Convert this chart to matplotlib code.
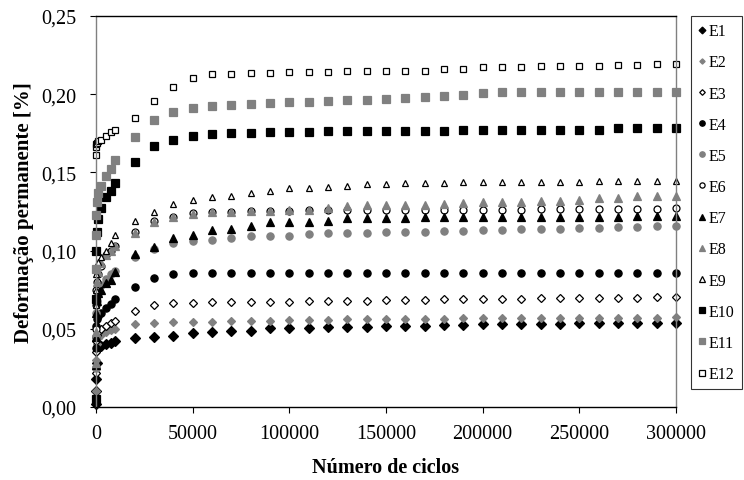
import matplotlib
matplotlib.use("Agg")
import matplotlib.pyplot as plt
from matplotlib.ticker import FuncFormatter, MultipleLocator

plt.rcParams['font.family'] = ['Liberation Serif', 'DejaVu Serif']

# ciclos: leituras iniciais + 20000..300000 de 10000 em 10000
early_x = [1, 10, 100, 500, 1000, 2500, 5000, 7500, 10000]
late_x = [20000, 30000, 40000, 50000, 60000, 70000, 80000, 90000, 100000,
          110000, 120000, 130000, 140000, 150000, 160000, 170000, 180000,
          190000, 200000, 210000, 220000, 230000, 240000, 250000, 260000,
          270000, 280000, 290000, 300000]
ciclos = early_x + late_x

E1 = [0.002, 0.010, 0.018, 0.028, 0.038, 0.039, 0.040, 0.041, 0.042,
      0.0443, 0.0450, 0.0456, 0.0471, 0.0477, 0.0488, 0.0488, 0.0503, 0.0503,
      0.0503, 0.0509, 0.0513, 0.0513, 0.0520, 0.0520, 0.0520, 0.0525, 0.0525,
      0.0530, 0.0530, 0.0530, 0.0530, 0.0533, 0.0535, 0.0535, 0.0535, 0.0538,
      0.0538, 0.0540]
E2 = [0.010, 0.024, 0.030, 0.040, 0.044, 0.046, 0.048, 0.049, 0.050,
      0.0531, 0.0537, 0.0541, 0.0541, 0.0545, 0.0549, 0.0553, 0.0553, 0.0555,
      0.0557, 0.0559, 0.0562, 0.0562, 0.0562, 0.0563, 0.0565, 0.0565, 0.0566,
      0.0567, 0.0568, 0.0568, 0.0569, 0.0570, 0.0570, 0.0571, 0.0571, 0.0572,
      0.0572, 0.0573]
E3 = [0.022, 0.035, 0.042, 0.046, 0.048, 0.050, 0.052, 0.054, 0.055,
      0.0612, 0.0654, 0.0663, 0.0663, 0.0669, 0.0669, 0.0671, 0.0673, 0.0673,
      0.0675, 0.0677, 0.0678, 0.0680, 0.0684, 0.0685, 0.0686, 0.0688, 0.0690,
      0.0690, 0.0692, 0.0693, 0.0695, 0.0696, 0.0697, 0.0698, 0.0700, 0.0700,
      0.0701, 0.0702]
E4 = [0.038, 0.045, 0.052, 0.056, 0.058, 0.060, 0.063, 0.066, 0.069,
      0.0769, 0.0825, 0.0848, 0.0855, 0.0855, 0.0855, 0.0855, 0.0855, 0.0855,
      0.0855, 0.0855, 0.0855, 0.0855, 0.0855, 0.0855, 0.0855, 0.0855, 0.0855,
      0.0855, 0.0855, 0.0855, 0.0855, 0.0855, 0.0855, 0.0855, 0.0855, 0.0855,
      0.0855, 0.0855]
E5 = [0.025, 0.045, 0.060, 0.068, 0.072, 0.078, 0.082, 0.085, 0.087,
      0.0957, 0.1010, 0.1049, 0.1063, 0.1070, 0.1078, 0.1091, 0.1095, 0.1095,
      0.1104, 0.1110, 0.1110, 0.1115, 0.1117, 0.1120, 0.1122, 0.1125, 0.1128,
      0.1130, 0.1133, 0.1135, 0.1138, 0.1140, 0.1143, 0.1145, 0.1148, 0.1150,
      0.1155, 0.1160]
E6 = [0.050, 0.065, 0.075, 0.080, 0.085, 0.090, 0.097, 0.100, 0.103,
      0.1117, 0.1191, 0.1217, 0.1240, 0.1249, 0.1249, 0.1254, 0.1254, 0.1254,
      0.1257, 0.1257, 0.1257, 0.1257, 0.1257, 0.1258, 0.1259, 0.1260, 0.1260,
      0.1260, 0.1262, 0.1262, 0.1263, 0.1263, 0.1265, 0.1265, 0.1266, 0.1267,
      0.1268, 0.1270]
E7 = [0.027, 0.045, 0.060, 0.068, 0.073, 0.075, 0.079, 0.081, 0.086,
      0.0978, 0.1021, 0.1078, 0.1102, 0.1134, 0.1138, 0.1159, 0.1181, 0.1185,
      0.1185, 0.1191, 0.1206, 0.1206, 0.1210, 0.1210, 0.1212, 0.1212, 0.1214,
      0.1214, 0.1215, 0.1215, 0.1216, 0.1216, 0.1217, 0.1218, 0.1218, 0.1219,
      0.1220, 0.1220]
E8 = [0.028, 0.048, 0.070, 0.080, 0.086, 0.092, 0.097, 0.100, 0.103,
      0.1110, 0.1185, 0.1212, 0.1235, 0.1245, 0.1247, 0.1252, 0.1255, 0.1258,
      0.1262, 0.1270, 0.1283, 0.1290, 0.1290, 0.1290, 0.1292, 0.1298, 0.1302,
      0.1309, 0.1313, 0.1313, 0.1317, 0.1320, 0.1326, 0.1334, 0.1338, 0.1347,
      0.1351, 0.1351]
E9 = [0.065, 0.075, 0.085, 0.090, 0.093, 0.096, 0.100, 0.105, 0.110,
      0.1191, 0.1245, 0.1298, 0.1326, 0.1340, 0.1351, 0.1368, 0.1383, 0.1398,
      0.1400, 0.1406, 0.1410, 0.1426, 0.1426, 0.1430, 0.1430, 0.1430, 0.1436,
      0.1436, 0.1436, 0.1436, 0.1440, 0.1440, 0.1440, 0.1447, 0.1447, 0.1447,
      0.1447, 0.1447]
E10 = [0.005, 0.069, 0.100, 0.112, 0.120, 0.127, 0.134, 0.138, 0.143,
       0.1564, 0.1671, 0.1709, 0.1735, 0.1745, 0.1750, 0.1755, 0.1758, 0.1760,
       0.1760, 0.1762, 0.1763, 0.1765, 0.1765, 0.1767, 0.1767, 0.1767, 0.1773,
       0.1773, 0.1773, 0.1773, 0.1773, 0.1773, 0.1773, 0.1773, 0.1781, 0.1781,
       0.1781, 0.1781]
E11 = [0.088, 0.110, 0.123, 0.131, 0.137, 0.141, 0.148, 0.152, 0.158,
       0.1724, 0.1837, 0.1888, 0.1910, 0.1927, 0.1932, 0.1937, 0.1942, 0.1947,
       0.1952, 0.1957, 0.1962, 0.1965, 0.1968, 0.1974, 0.1980, 0.1986, 0.1997,
       0.2005, 0.2012, 0.2012, 0.2012, 0.2012, 0.2012, 0.2012, 0.2012, 0.2012,
       0.2012, 0.2012]
E12 = [0.161, 0.166, 0.168, 0.169, 0.170, 0.171, 0.1735, 0.1756, 0.177,
       0.1848, 0.1954, 0.2044, 0.2104, 0.2129, 0.2132, 0.2135, 0.2138, 0.2140,
       0.2142, 0.2144, 0.2146, 0.2148, 0.2149, 0.2150, 0.2150, 0.2160, 0.2164,
       0.2172, 0.2172, 0.2172, 0.2178, 0.2178, 0.2178, 0.2178, 0.2187, 0.2187,
       0.2193, 0.2193]

series = [E1, E2, E3, E4, E5, E6, E7, E8, E9, E10, E11, E12]
labels = ['E1', 'E2', 'E3', 'E4', 'E5', 'E6', 'E7', 'E8', 'E9', 'E10', 'E11', 'E12']

gray = '#808080'
# (marker, face, edge, size)
styles = [('D', 'black', 'black', 4.6),
          ('D', gray, gray, 3.6),
          ('D', 'white', 'black', 3.8),
          ('o', 'black', 'black', 5.2),
          ('o', gray, gray, 5.2),
          ('o', 'white', 'black', 5.0),
          ('^', 'black', 'black', 5.4),
          ('^', gray, gray, 5.4),
          ('^', 'white', 'black', 5.0),
          ('s', 'black', 'black', 5.2),
          ('s', gray, gray, 5.2),
          ('s', 'white', 'black', 5.0)]

fig = plt.figure(figsize=(7.44, 4.81), dpi=100)
ax = fig.add_axes([96 / 744, 1 - 408 / 481, 580 / 744, 391 / 481])

for vals, lab, (m, fc, ec, ms) in zip(series, labels, styles):
    ax.plot(ciclos, vals, linestyle='none', marker=m, markerfacecolor=fc,
            markeredgecolor=ec, markersize=ms, markeredgewidth=0.9,
            label=lab, clip_on=False)

ax.set_xlim(0, 300000)
ax.set_ylim(0, 0.25)
ax.xaxis.set_major_locator(MultipleLocator(50000))
ax.yaxis.set_major_locator(MultipleLocator(0.05))
ax.xaxis.set_major_formatter(FuncFormatter(lambda v, p: f"{int(v)}"))
ax.yaxis.set_major_formatter(FuncFormatter(lambda v, p: f"{v:.2f}".replace('.', ',')))
ax.tick_params(direction='out', length=4, width=0.8, labelsize=14.5)
ax.tick_params(axis='x', pad=8)
ax.tick_params(axis='y', pad=10)

ax.spines['left'].set_color(gray)
ax.spines['right'].set_color(gray)
ax.spines['top'].set_color('black')
ax.spines['bottom'].set_color('black')
for s in ax.spines.values():
    s.set_linewidth(1.0)

ax.set_xlabel("Número de ciclos", fontsize=14.5, fontweight='bold', labelpad=10)
ax.set_ylabel("Deformação permanente [%]", fontsize=15, fontweight='bold', labelpad=5)

leg = fig.legend(loc='upper left', bbox_to_anchor=(691 / 744, 1 - 17 / 481),
                 fontsize=11.5, labelspacing=0.95, handlelength=0.45,
                 handletextpad=0.2, borderpad=0.45, borderaxespad=0,
                 markerscale=0.75, fancybox=False, frameon=True)
leg.get_frame().set_edgecolor('black')
leg.get_frame().set_linewidth(0.8)

fig.savefig("out.png", dpi=100)
